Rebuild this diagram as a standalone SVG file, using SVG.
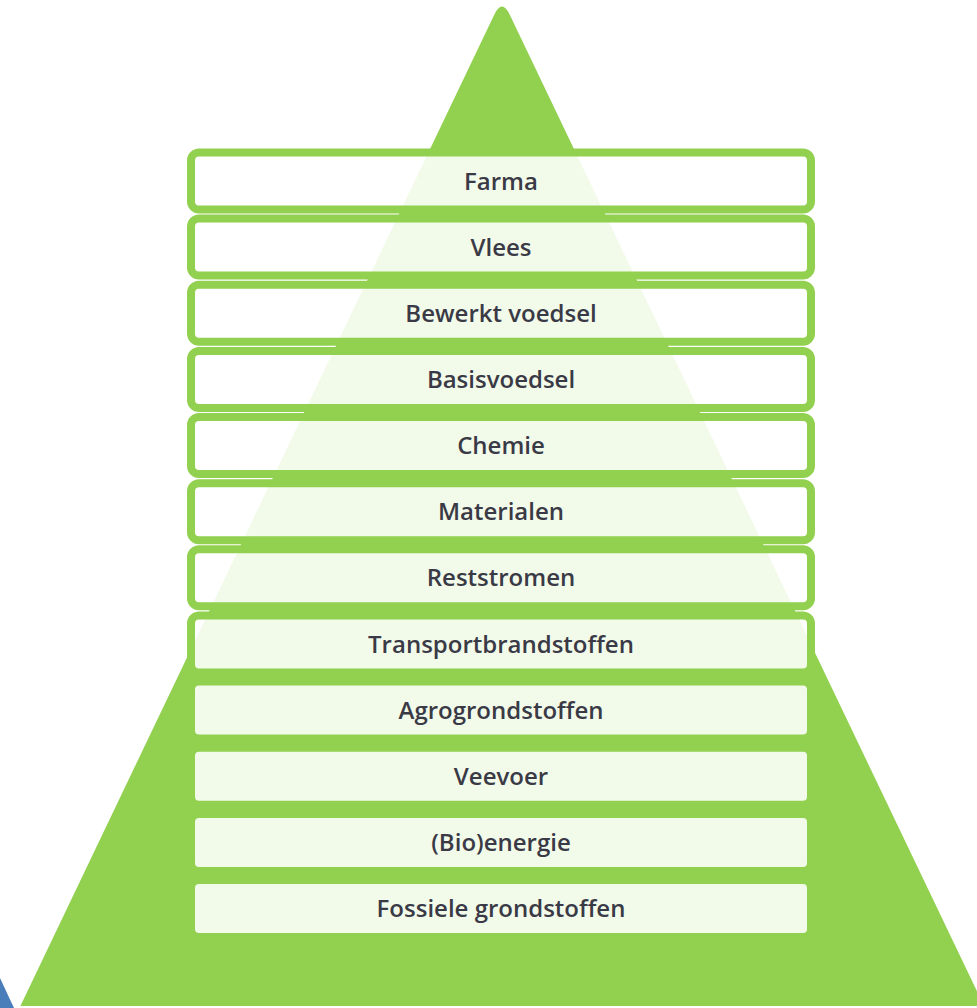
<svg xmlns="http://www.w3.org/2000/svg" width="977" height="1008" viewBox="0 0 977 1008">
<style>
.box{fill:#ffffff;fill-opacity:0.88;stroke:#92d050;stroke-width:8}
.lbl{font-family:"Open Sans","Liberation Sans",sans-serif;font-size:24px;font-weight:600;fill:#3a3a46;text-anchor:middle}
</style>
<rect x="0" y="0" width="977" height="1008" fill="#ffffff"/>
<g id="blue-corner">
<path d="M0,978 L14,1008 L0,1008 Z" fill="#4a7ebb"/>
</g>
<g id="pyramid">
<path d="M20.4,1006 L494.6,14 Q502,-1 509.4,14 L984,1006 Z" fill="#92d050"/>
</g>
<g id="layer-farma"><rect class="box" x="191" y="152.5" width="620" height="57" rx="8"/><text class="lbl" x="501" y="189.5">Farma</text></g>
<g id="layer-vlees"><rect class="box" x="191" y="218.6" width="620" height="57" rx="8"/><text class="lbl" x="501" y="255.6">Vlees</text></g>
<g id="layer-bewerkt-voedsel"><rect class="box" x="191" y="284.8" width="620" height="57" rx="8"/><text class="lbl" x="501" y="321.8">Bewerkt voedsel</text></g>
<g id="layer-basisvoedsel"><rect class="box" x="191" y="350.9" width="620" height="57" rx="8"/><text class="lbl" x="501" y="387.9">Basisvoedsel</text></g>
<g id="layer-chemie"><rect class="box" x="191" y="417.1" width="620" height="57" rx="8"/><text class="lbl" x="501" y="454.1">Chemie</text></g>
<g id="layer-materialen"><rect class="box" x="191" y="483.2" width="620" height="57" rx="8"/><text class="lbl" x="501" y="520.2">Materialen</text></g>
<g id="layer-reststromen"><rect class="box" x="191" y="549.3" width="620" height="57" rx="8"/><text class="lbl" x="501" y="586.3">Reststromen</text></g>
<g id="layer-transportbrandstoffen"><rect class="box" x="191" y="615.5" width="620" height="57" rx="8"/><text class="lbl" x="501" y="652.5">Transportbrandstoffen</text></g>
<g id="layer-agrogrondstoffen"><rect class="box" x="191" y="681.6" width="620" height="57" rx="8"/><text class="lbl" x="501" y="718.6">Agrogrondstoffen</text></g>
<g id="layer-veevoer"><rect class="box" x="191" y="747.8" width="620" height="57" rx="8"/><text class="lbl" x="501" y="784.8">Veevoer</text></g>
<g id="layer-bioenergie"><rect class="box" x="191" y="813.9" width="620" height="57" rx="8"/><text class="lbl" x="501" y="850.9">(Bio)energie</text></g>
<g id="layer-fossiele-grondstoffen"><rect class="box" x="191" y="880" width="620" height="57" rx="8"/><text class="lbl" x="501" y="917">Fossiele grondstoffen</text></g>
</svg>
